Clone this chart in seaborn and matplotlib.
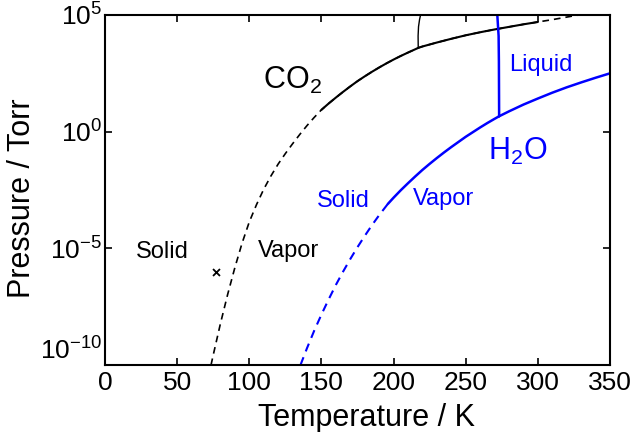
import numpy as np
import seaborn as sns
import matplotlib.pyplot as plt

# CO2 vapour pressure, fitted curve (dashed), log10(P / Torr)
co2_fit_t = [73.5, 75, 80, 85, 90, 95, 100, 105, 110, 115, 120, 125, 130, 135, 140, 145,
             150, 155, 160, 165, 170, 175, 180, 185, 190, 195, 200, 205, 210, 215, 217.1,
             220, 230, 240, 250, 260, 270, 280, 290, 300, 310, 320, 330]
co2_fit_logp = [-10.0, -9.58, -8.23, -6.98, -5.83, -4.78, -3.87, -3.13, -2.47, -1.90, -1.39,
                -0.94, -0.52, -0.12, 0.26, 0.61, 0.935, 1.206, 1.46, 1.705, 1.94, 2.165,
                2.37, 2.565, 2.75, 2.925, 3.09, 3.245, 3.39, 3.53, 3.59,
                3.65, 3.82, 3.98, 4.13, 4.26, 4.38, 4.49, 4.60, 4.70, 4.80, 4.91, 5.02]

# CO2 measured curve (solid)
co2_obs_t = [150, 155, 160, 165, 170, 175, 180, 185, 190, 195, 200, 205, 210, 215, 217.1,
             220, 230, 240, 250, 260, 270, 280, 290, 300]
co2_obs_logp = [0.935, 1.206, 1.46, 1.705, 1.94, 2.165, 2.37, 2.565, 2.75, 2.925, 3.09,
                3.245, 3.39, 3.53, 3.59, 3.65, 3.82, 3.98, 4.13, 4.26, 4.38, 4.49, 4.60, 4.70]

# CO2 solid-liquid line
co2_melt_t = [217.1, 217.0, 217.3, 218.0, 218.7]
co2_melt_logp = [3.59, 4.1, 4.5, 4.8, 5.0]

# H2O ice, extrapolated (dashed)
h2o_ice_ext_t = [135.5, 140, 145, 150, 155, 160, 165, 170, 175, 180, 185, 190, 196]
h2o_ice_ext_logp = [-10.0, -9.28, -8.53, -7.84, -7.19, -6.57, -6.0, -5.46, -4.95, -4.47,
                    -4.01, -3.58, -3.10]

# H2O ice, measured (solid)
h2o_ice_t = [196, 200, 205, 210, 215, 220, 225, 230, 235, 240, 245, 250, 255, 260, 265,
             270, 273.16]
h2o_ice_logp = [-3.10, -2.83, -2.51, -2.21, -1.92, -1.64, -1.38, -1.13, -0.89, -0.66,
                -0.44, -0.22, -0.02, 0.18, 0.37, 0.55, 0.66]

# H2O liquid-vapour
h2o_liq_t = [273.16, 280, 290, 300, 310, 320, 330, 340, 350]
h2o_liq_logp = [0.66, 0.87, 1.16, 1.42, 1.67, 1.90, 2.11, 2.31, 2.50]

# H2O solid-liquid line
h2o_melt_t = [273.16, 273.0, 272.8, 271.9]
h2o_melt_logp = [0.66, 3.0, 4.1, 5.0]

# marked point
mark_t = [77]
mark_logp = [-6.0]

yticks_log = [-10, -5, 0, 5]
xticks = [0, 50, 100, 150, 200, 250, 300, 350]

sns.set_style("ticks")
plt.rcParams["font.family"] = ["Liberation Sans", "DejaVu Sans"]
plt.rcParams["mathtext.default"] = "regular"
plt.rcParams["text.color"] = "black"
plt.rcParams["axes.labelcolor"] = "black"
plt.rcParams["xtick.color"] = "black"
plt.rcParams["ytick.color"] = "black"
plt.rcParams["axes.edgecolor"] = "black"

fig = plt.figure(figsize=(6.32, 4.32), dpi=100)
ax = fig.add_axes([0.1661, 0.1551, 0.7991, 0.8102])

blue = "#0000ff"
dash = (0, (4, 3))


def p(v):
    return 10.0 ** np.asarray(v)


sns.lineplot(x=co2_fit_t, y=p(co2_fit_logp), ax=ax, color="black", lw=1.2,
             linestyle=dash, sort=False, estimator=None)
sns.lineplot(x=co2_obs_t, y=p(co2_obs_logp), ax=ax, color="black", lw=1.5,
             sort=False, estimator=None)
sns.lineplot(x=co2_melt_t, y=p(co2_melt_logp), ax=ax, color="black", lw=1.0,
             sort=False, estimator=None)
sns.lineplot(x=h2o_ice_ext_t, y=p(h2o_ice_ext_logp), ax=ax, color=blue, lw=1.5,
             linestyle=dash, sort=False, estimator=None)
sns.lineplot(x=h2o_ice_t, y=p(h2o_ice_logp), ax=ax, color=blue, lw=1.8,
             sort=False, estimator=None)
sns.lineplot(x=h2o_liq_t, y=p(h2o_liq_logp), ax=ax, color=blue, lw=1.8,
             sort=False, estimator=None)
sns.lineplot(x=h2o_melt_t, y=p(h2o_melt_logp), ax=ax, color=blue, lw=1.8,
             sort=False, estimator=None)
sns.scatterplot(x=mark_t, y=p(mark_logp), ax=ax, marker="x", color="black",
                s=25, linewidth=1.3)

ax.set_yscale("log")
ax.set_xlim(0, 350)
ax.set_ylim(1e-10, 1e5)
ax.set_xticks(xticks)
ax.set_yticks(p(yticks_log))
ax.set_yticklabels([f"$10^{{{v}}}$" for v in yticks_log])
ax.minorticks_off()
ax.tick_params(direction="in", top=True, right=True, length=5, width=1.2,
               labelsize=19, pad=4, colors="black")
ax.tick_params(axis="y", pad=2)
for s in ax.spines.values():
    s.set_linewidth(1.5)
    s.set_color("black")
ax.get_yticklabels()[0].set_va("bottom")

ax.set_xlabel("Temperature / K", fontsize=22, color="black")
ax.set_ylabel("Pressure / Torr", fontsize=22, color="black")
ax.xaxis.set_label_coords(0.517, -0.108)
ax.yaxis.set_label_coords(-0.135, 0.477)

# annotations
ax.text(109.5, 10 ** 1.83, "CO$_2$", fontsize=22, color="black")
ax.text(265.2, 10 ** -1.22, "H$_2$O", fontsize=22, color=blue)
ax.text(280.1, 10 ** 2.61, "Liquid", fontsize=17, color=blue)
ax.text(147.1, 10 ** -3.22, "Solid", fontsize=17, color=blue)
ax.text(213.7, 10 ** -3.14, "Vapor", fontsize=17, color=blue)
ax.text(21.5, 10 ** -5.42, "Solid", fontsize=17, color="black")
ax.text(106.1, 10 ** -5.39, "Vapor", fontsize=17, color="black")

fig.savefig("out.png", dpi=100)
